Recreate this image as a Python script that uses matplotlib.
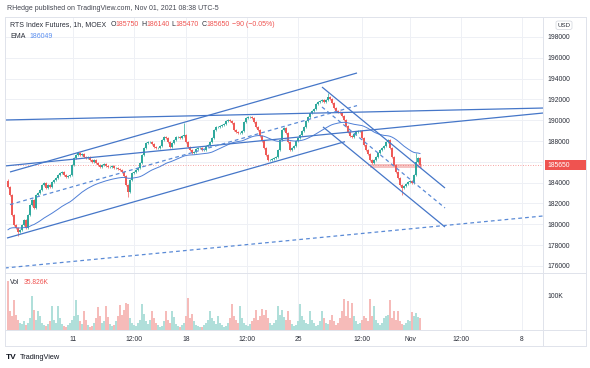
import matplotlib
matplotlib.use("Agg")
import matplotlib.pyplot as plt
import numpy as np
from matplotlib.patches import Rectangle, FancyBboxPatch
from matplotlib.lines import Line2D

plt.rcParams['font.family'] = ['Liberation Sans', 'DejaVu Sans']

# ---------------- data ----------------
closes = [
    183580, 182810, 180890, 179920, 179640, 179250, 179440, 179920, 180400, 179640,
    180890, 181850, 182330, 181560, 182810, 183000, 183290, 183770, 183960, 183480,
    183770, 183580, 184060, 184250, 184440, 184730, 184920, 185020, 184730, 184540,
    184640, 184730, 185690, 186370, 186650, 186850, 186650, 186750, 186460, 186370,
    186460, 186170, 185980, 186170, 185890, 185690, 185500, 185690, 185790, 185600,
    185500, 185500, 185600, 185400, 185400, 185310, 185210, 185020, 184640, 183770,
    183100, 184250, 184920, 185020, 185210, 185400, 185890, 186650, 187330, 187810,
    187900, 187900, 187710, 187420, 187330, 187330, 187520, 188100, 188390, 188290,
    187900, 187420, 187810, 188100, 188390, 188390, 188290, 188480, 188580, 187900,
    187420, 187140, 186850, 186940, 187230, 187330, 187330, 187140, 187140, 187520,
    187620, 187900, 188290, 189060, 189350, 189350, 189440, 189540, 189640, 189920,
    190020, 189920, 189730, 189060, 188870, 188770, 188770, 188960, 189830, 190210,
    190310, 190310, 190210, 189830, 189350, 189060, 188480, 188000, 187330, 186650,
    186170, 186170, 186270, 186370, 186460, 187140, 188100, 189060, 189250, 188770,
    187900, 187140, 187330, 187520, 188000, 188290, 188580, 188960, 189350, 189920,
    190310, 190690, 190890, 191080, 191560, 191750, 191850, 191940, 191750, 191940,
    192230, 192040, 191650, 191170, 190890, 190790, 190690, 190400, 190020, 189440,
    188870, 188480, 188390, 188670, 188870, 188960, 188960, 188290, 187620, 187140,
    186750, 186170, 185890, 186170, 186460, 186850, 187140, 187330, 187520, 187900,
    188100, 187330, 186460, 185690, 185020, 184440, 183770, 183480, 183670, 183870,
    184060, 184150, 183960, 184730, 185980, 186370, 185650,
]
first_open = 184200
wick = 110
high_spikes = {88: 189730, 160: 192620, 204: 186850}
low_spikes = {5: 178870, 60: 182620, 197: 182810}

volumes_k = [
    144, 55, 40, 88, 45, 30, 22, 18, 25, 15,
    20, 35, 100, 60, 28, 55, 42, 20, 15, 12,
    18, 25, 70, 30, 22, 70, 35, 18, 12, 10,
    14, 20, 28, 40, 88, 45, 25, 18, 55, 30,
    15, 10, 12, 22, 35, 68, 40, 20, 25, 72,
    38, 18, 12, 15, 25, 40, 73, 45, 60, 80,
    75, 35, 22, 15, 12, 20, 30, 75, 48, 25,
    18, 30, 55, 35, 20, 14, 10, 12, 25, 55,
    30, 20, 55, 38, 18, 12, 10, 15, 22, 40,
    95, 35, 48, 25, 15, 12, 8, 10, 15, 20,
    30, 55, 35, 25, 18, 40, 22, 15, 10, 12,
    20, 35, 75, 40, 28, 22, 70, 35, 20, 15,
    12, 18, 25, 35, 58, 30, 40, 62, 45, 60,
    35, 22, 15, 20, 30, 70, 45, 60, 38, 30,
    55, 28, 18, 12, 15, 25, 75, 40, 30, 22,
    18, 55, 30, 20, 12, 15, 25, 55, 35, 22,
    18, 30, 45, 25, 15, 20, 35, 55, 90, 40,
    85, 35, 80, 40, 25, 18, 22, 30, 40, 35,
    25, 92, 40, 70, 30, 20, 15, 22, 35, 40,
    45, 88, 35, 55, 30, 55, 25, 18, 15, 22,
    30, 25, 52, 40, 50, 38, 35.826,
]

ema_span = 50
ema_start = 179300

price_ticks = [176000, 178000, 180000, 182000, 184000, 186000,
               188000, 190000, 192000, 194000, 196000, 198000]
time_tick_pos = [32.5, 63, 89, 119.5, 145, 177, 201, 226.5, 257]
time_tick_labels = ["11", "12:00", "18", "12:00", "25", "12:00", "Nov", "12:00", "8"]

# drawings: ((bar, price), (bar, price))
solid_lines = [
    ((1, 185020), (174.5, 194540)),
    ((-0.5, 178670), (168.5, 187940)),
    ((-1.5, 190020), (267.5, 191170)),
    ((-1.5, 185600), (267.5, 190690)),
    ((157, 193190), (218.5, 183480)),
    ((157.5, 189350), (218.5, 179730)),
]
dashed_lines = [
    ((1, 181885), (174.5, 191404)),
    ((157, 191270), (218.5, 181560)),
    ((-1.5, 175790), (267.5, 180790)),
]
zone = (181, 207, 185380, 185820)

last_price = 185650
ema_value = 186049

# ---------------- figure ----------------
W, H = 590, 368
fig = plt.figure(figsize=(W / 100, H / 100), dpi=100)

def fx(px):
    return px / W

def fy(py):
    return 1 - py / H

L, R, T, PB, VB = 5, 543, 17, 273, 330
ax = fig.add_axes([fx(L), fy(PB), fx(R - L), (PB - T) / H])
axv = fig.add_axes([fx(L), fy(VB), fx(R - L), (VB - PB) / H], sharex=ax)
axv.patch.set_visible(False)

up_c, dn_c = '#2fa99d', '#ef5a57'
n = len(closes)
idx = np.arange(n)
opens = [first_open] + closes[:-1]
highs, lows, cols = [], [], []
for i, (o, c) in enumerate(zip(opens, closes)):
    highs.append(high_spikes.get(i, max(o, c) + wick))
    lows.append(low_spikes.get(i, min(o, c) - wick))
    cols.append(up_c if c >= o else dn_c)

grid_c = '#eef0f5'
for a in (ax, axv):
    for s in a.spines.values():
        s.set_visible(False)
    for p in time_tick_pos:
        a.axvline(p, color=grid_c, lw=0.7, zorder=0)
for p in price_ticks:
    ax.axhline(p, color=grid_c, lw=0.7, zorder=0)

# candles
ax.vlines(idx, lows, highs, colors=cols, lw=0.5, zorder=3)
bottoms = [min(o, c) for o, c in zip(opens, closes)]
heights = [max(abs(c - o), 25) for o, c in zip(opens, closes)]
ax.bar(idx, heights, bottom=bottoms, width=0.7, color=cols, lw=0, zorder=4)

# EMA
ema = []
e = ema_start
alpha = 2 / (ema_span + 1)
for c in closes:
    e = e + alpha * (c - e)
    ema.append(e)
ax.plot(idx, ema, color='#4f7fd6', lw=0.7, zorder=5)

# drawings
line_c = '#4576c8'
for (x0, y0), (x1, y1) in solid_lines:
    ax.plot([x0, x1], [y0, y1], color=line_c, lw=0.9, zorder=6, solid_capstyle='butt')
for (x0, y0), (x1, y1) in dashed_lines:
    ax.plot([x0, x1], [y0, y1], color='#5a8ad6', lw=0.9, ls=(0, (3, 2.5)), zorder=6)
z0, z1, zb, zt = zone
ax.add_patch(Rectangle((z0, zb), z1 - z0, zt - zb, facecolor='#f4b9b8', edgecolor='none',
                       alpha=0.85, zorder=2))
ax.axhline(last_price, color='#ef5350', lw=0.6, ls=(0, (1, 2)), alpha=0.7, zorder=2)

ax.set_xlim(-1.5, 267.5)
ax.set_ylim(175308, 199923)
ax.yaxis.tick_right()
ax.set_yticks(price_ticks)
ax.set_yticklabels(['' if p == 186000 else str(p) for p in price_ticks])
ax.tick_params(axis='y', length=0, pad=3.5, labelsize=4.9, labelcolor='#2a2e39')
ax.tick_params(axis='x', length=0, labelbottom=False)

# volume
vcols = ['#b0dfda' if c == up_c else '#f6bbb9' for c in cols]
axv.bar(idx, volumes_k, width=0.6, color=vcols, lw=0, zorder=3)
axv.set_ylim(0, 167.6)
axv.yaxis.tick_right()
axv.set_yticks([100])
axv.set_yticklabels(['100K'])
axv.tick_params(axis='y', length=0, pad=3.5, labelsize=4.9, labelcolor='#2a2e39')
axv.set_xticks(time_tick_pos)
axv.set_xticklabels(time_tick_labels)
axv.tick_params(axis='x', length=0, pad=4, labelsize=4.9, labelcolor='#2a2e39')

# frame lines
border = '#e0e3eb'
def fline(x0, y0, x1, y1, c=border, lw=0.7):
    fig.add_artist(Line2D([fx(x0), fx(x1)], [fy(y0), fy(y1)], color=c, lw=lw,
                          transform=fig.transFigure))
fline(L, T, 586, T)
fline(L, T, L, 346)
fline(586, T, 586, 346)
fline(L, 346, 586, 346)
fline(R, T, R, 346)
fline(L, PB, 586, PB)
fline(L, VB, 586, VB)

# last price label on scale
fig.add_artist(Rectangle((fx(545), fy(170)), fx(41), 9.5 / H, transform=fig.transFigure,
                         facecolor='#ef5350', edgecolor='none', zorder=10))
fig.text(fx(547), fy(165.4), "185650", color='white', fontsize=4.9, va='center',
         ha='left', zorder=11)

# USD box
fig.add_artist(FancyBboxPatch((fx(556), fy(29.5)), fx(16), 8.5 / H,
                              boxstyle='round,pad=0,rounding_size=0.004',
                              transform=fig.transFigure, facecolor='white',
                              edgecolor='#d1d4dc', lw=0.5, zorder=10))
fig.text(fx(564), fy(25.3), "USD", color='#2a2e39', fontsize=4.4, va='center',
         ha='center', zorder=11)

# texts
fig.text(fx(7), fy(8), "RHedge published on TradingView.com, Nov 01, 2021 08:38 UTC-5",
         fontsize=5.0, color='#434651', va='center', ha='left')

dark = '#2a2e39'
red = '#ef5350'
pieces = [("RTS Index Futures, 1h, MOEX", dark, 0), ("O", dark, 3.0), ("185750", red, 0),
          ("H", dark, 1.6), ("186140", red, 0), ("L", dark, 1.6), ("185470", red, 0),
          ("C", dark, 1.6), ("185650", red, 0), ("\u221290 (\u22120.05%)", red, 1.6)]
t = None
for s, c, gap in pieces:
    if t is None:
        t = fig.text(fx(10), fy(25), s, fontsize=5.0, color=c, va='center', ha='left')
    else:
        t = ax.annotate(s, xy=(1, 0), xycoords=t, xytext=(gap, 0), textcoords='offset points',
                        fontsize=5.0, color=c, va='bottom', ha='left', annotation_clip=False)

t = fig.text(fx(10), fy(36), "EMA", fontsize=5.0, color=dark, va='center', ha='left')
ax.annotate(str(ema_value), xy=(1, 0), xycoords=t, xytext=(3, 0), textcoords='offset points',
            fontsize=5.0, color='#5b8ff0', va='bottom', ha='left', annotation_clip=False)

t = fig.text(fx(10), fy(283), "Vol", fontsize=4.9, color=dark, va='center', ha='left',
             zorder=12)
fig.add_artist(matplotlib.text.Annotation(
    "35.826K", xy=(1, 0), xycoords=t, xytext=(3, 0), textcoords='offset points',
    fontsize=4.9, color=red, va='bottom', ha='left', annotation_clip=False, zorder=12))

fig.text(fx(6), fy(357.5), "TV", fontsize=6, fontweight='bold', color='#131722',
         va='center', ha='left')
fig.text(fx(20), fy(357.5), "TradingView", fontsize=5.3, color='#131722', va='center',
         ha='left')

fig.savefig("out.png", dpi=100, facecolor='white')
